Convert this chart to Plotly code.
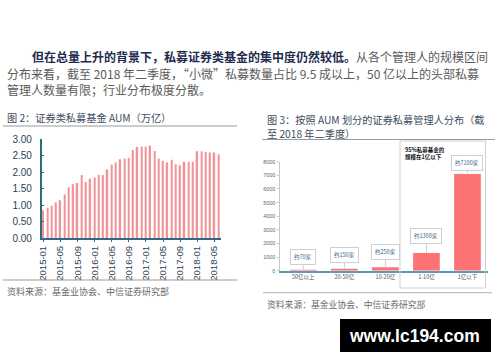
import plotly.graph_objects as go

W, H = 500, 362
def px(x): return x / W
def py(y): return 1 - y / H

CJK = "Noto Sans CJK SC"

# ---------------- data ----------------
months = [f"{y}-{m:02d}" for y in (2015, 2016, 2017, 2018) for m in range(1, 13)][:42]
aum = [0.85, 0.92, 0.98, 1.08, 1.15, 1.32, 1.54, 1.63, 1.67, 1.91, 1.70, 1.80,
       1.84, 1.92, 1.91, 2.08, 2.23, 2.29, 2.39, 2.41, 2.43, 2.67, 2.76, 2.77,
       2.77, 2.80, 2.64, 2.41, 2.34, 2.29, 2.37, 2.24, 2.21, 2.31, 2.31, 2.31,
       2.63, 2.63, 2.61, 2.59, 2.59, 2.54]
month_ticks = months[::4]
y_ticks = [0, 0.5, 1.0, 1.5, 2.0, 2.5, 3.0]

size_cats = ["50亿以上", "20-50亿", "10-20亿", "1-10亿", "1亿以下"]
managers = [70, 150, 250, 1300, 7100]
manager_labels = ["约70家", "约150家", "约250家", "约1300家", "约7100家"]

fig = go.Figure()

fig.add_trace(go.Bar(
    x=months, y=aum, xaxis="x", yaxis="y",
    marker=dict(color="#f29497", line=dict(width=0)), width=0.36, showlegend=False))

fig.add_trace(go.Bar(
    x=size_cats, y=managers, xaxis="x2", yaxis="y2",
    marker=dict(color="#fd7373", line=dict(width=0)), width=0.65, showlegend=False))

teal = "#2f6a80"
fig.update_layout(
    width=W, height=H, margin=dict(l=0, r=0, t=0, b=0),
    paper_bgcolor="white", plot_bgcolor="white",
    font=dict(family=CJK, color="#333"),
    xaxis=dict(domain=[px(41.7), px(220.8)], type="category", range=[-0.35, 41.5],
               tickmode="array", tickvals=month_ticks, ticktext=month_ticks,
               tickangle=-90, tickfont=dict(size=9.5, color="#2d3f55", family="Liberation Sans"),
               showline=True, linecolor=teal, linewidth=1.5, ticks="outside", ticklen=2,
               tickcolor=teal, showgrid=False, zeroline=False, anchor="y", automargin=False),
    yaxis=dict(domain=[py(238.3), py(139)], range=[0, 3], tickvals=y_ticks,
               tickformat=".2f", tickfont=dict(size=10, color="#2d3f55", family="Liberation Sans"),
               showline=True, linecolor=teal, linewidth=1.5, ticks="inside", ticklen=3,
               tickcolor=teal, showgrid=False, zeroline=False, anchor="x",
               ticklabelstandoff=6, automargin=False),
    xaxis2=dict(domain=[px(279.5), px(488)], type="category", range=[-0.58, 4.5],
                tickfont=dict(size=5.5, color="#555"), showline=True,
                linecolor="#5a9ab5", linewidth=1.5, showgrid=False, zeroline=False,
                anchor="y2", automargin=False),
    yaxis2=dict(domain=[py(270.7), py(161.7)], range=[0, 8000], dtick=1000,
                tickfont=dict(size=5.5, color="#666", family="Liberation Sans"),
                showline=True, linecolor="#c8c8c8", linewidth=1, ticks="outside",
                ticklen=2, tickcolor="#c8c8c8", showgrid=False, zeroline=False,
                anchor="x2", automargin=False),
)

shapes = []
def hline(x0, x1, y, color="#9a9a9a", width=1):
    shapes.append(dict(type="line", xref="paper", yref="paper", x0=px(x0), x1=px(x1),
                       y0=py(y), y1=py(y), line=dict(color=color, width=width)))
hline(3, 237, 126)
hline(3, 237, 280)
hline(262, 495, 139.5)
hline(263, 492, 292.7, color="#b0b0b0")
# highlight box
shapes.append(dict(type="rect", xref="paper", yref="paper", x0=px(400), x1=px(485.5),
                   y0=py(288), y1=py(141), line=dict(color="#cfcfcf", width=1)))
# watermark box
shapes.append(dict(type="rect", xref="paper", yref="paper", x0=px(340), x1=px(491),
                   y0=py(352), y1=py(319), fillcolor="black", line=dict(width=0)))
fig.update_layout(shapes=shapes)

ann = []
def text(x, y, s, size, color, bold=False, family=CJK, xanchor="left"):
    ann.append(dict(xref="paper", yref="paper", x=px(x), y=py(y), text=(f"<b>{s}</b>" if bold else s),
                    showarrow=False, xanchor=xanchor, yanchor="middle",
                    font=dict(size=size, color=color, family=family)))

# paragraph
text(30, 56.5, "<b>但在总量上升的背景下，私募证券类基金的集中度仍然较低。</b>"
     "<span style='color:#5a5a5a'>从各个管理人的规模区间</span>", 12, "#1d2b4d")
text(5, 73, "分布来看，截至 2018 年二季度，“小微”私募数量占比 9.5 成以上，50 亿以上的头部私募",
     12, "#5a5a5a")
text(5, 89.3, "管理人数量有限；行业分布极度分散。", 12, "#5a5a5a")

# titles
text(5, 117.5, "图 2：证券类私募基金 AUM（万亿）", 10.2, "#3c4b5e")
text(265, 119, "图 3：按照 AUM 划分的证券私募管理人分布（截", 10.2, "#3c4b5e")
text(265, 133, "至 2018 年二季度）", 10.2, "#3c4b5e")

# sources
text(5, 291.7, "资料来源：基金业协会、中信证券研究部", 9, "#6a6a6a")
text(265, 304.3, "资料来源：基金业协会、中信证券研究部", 8.8, "#6a6a6a")

# highlight box text
ann.append(dict(xref="paper", yref="paper", x=px(403), y=py(144), text="<b>95%私募基金的<br>规模在1亿以下</b>",
                showarrow=False, xanchor="left", yanchor="top", align="left",
                font=dict(size=5.5, color="#111", family=CJK)))

# bar callouts
offsets = [-13, -14, -15, -17, -11]
for cat, v, lab, off in zip(size_cats, managers, manager_labels, offsets):
    ann.append(dict(xref="x2", yref="y2", x=cat, y=v, text=lab, showarrow=True,
                    arrowhead=0, arrowcolor="#d0d0d0", arrowwidth=1, ax=0, ay=off,
                    font=dict(size=5.5, color="#3b5f86", family=CJK),
                    bgcolor="white", bordercolor="#cfcfcf", borderwidth=1, borderpad=3))

# watermark text
ann.append(dict(xref="paper", yref="paper", x=px(414), y=py(335.5), text="<b>www.lc194.com</b>",
                showarrow=False, xanchor="center", yanchor="middle",
                font=dict(size=17.5, color="white", family="Liberation Sans")))

fig.update_layout(annotations=ann)
fig.write_html("out.html", config={"displayModeBar": False},
               post_script="document.body.style.margin='0';document.body.style.overflow='hidden';")
